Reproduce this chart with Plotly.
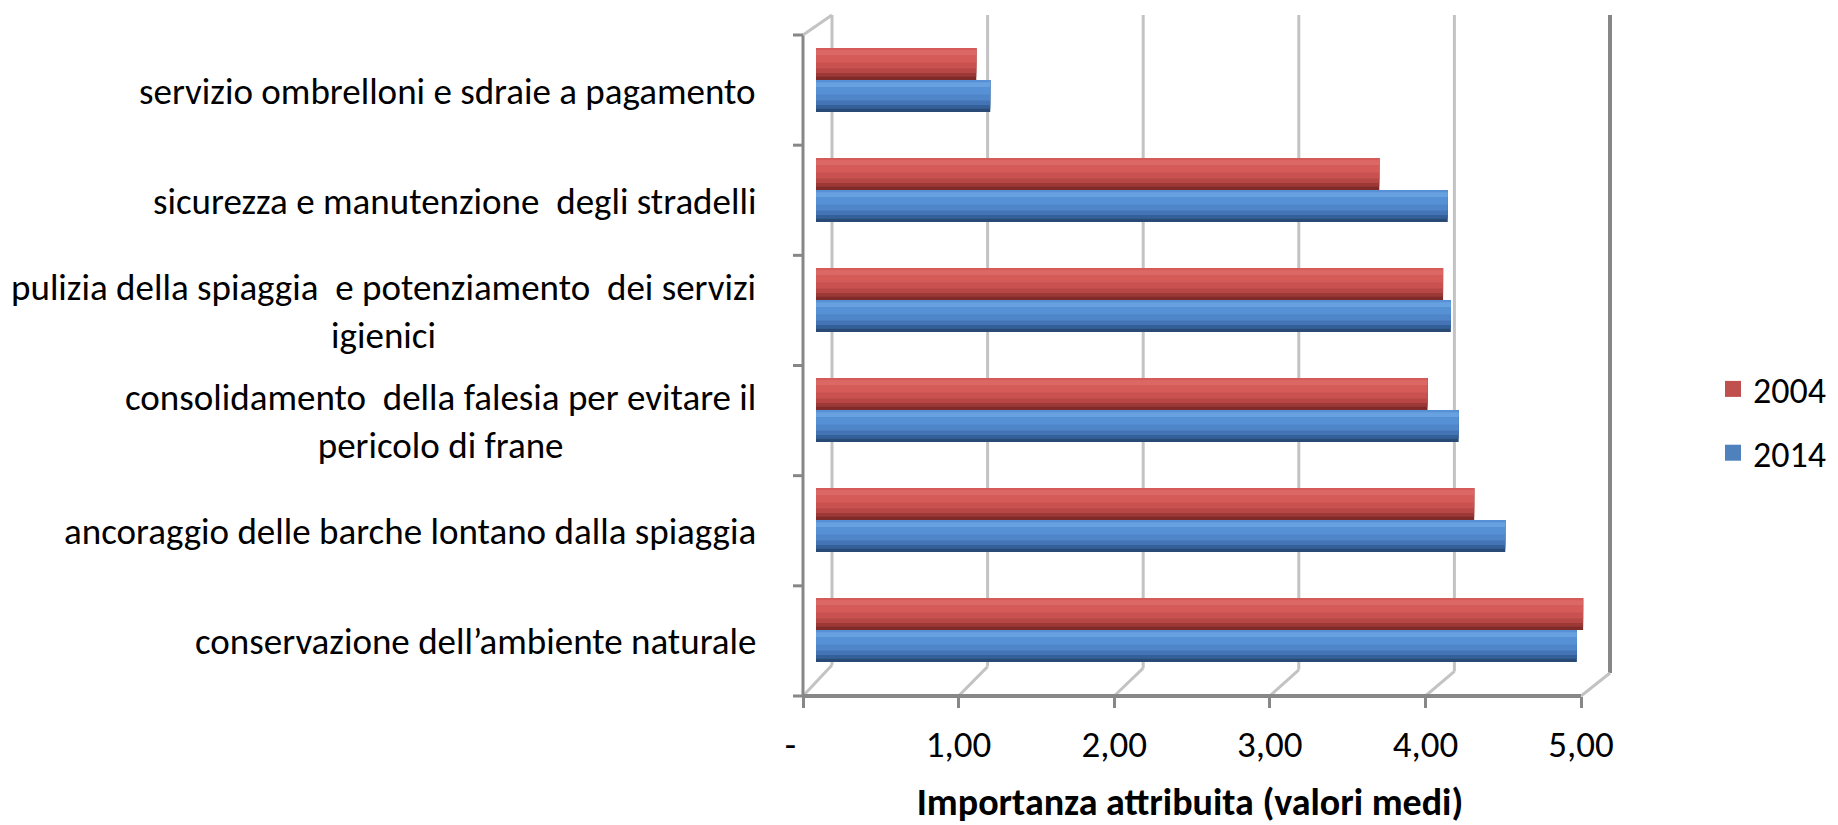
import plotly.graph_objects as go

# ---------------- data ----------------
categories = [
    "conservazione dell’ambiente naturale",
    "ancoraggio delle barche lontano dalla spiaggia",
    "consolidamento della falesia per evitare il pericolo di frane",
    "pulizia della spiaggia e potenziamento dei servizi igienici",
    "sicurezza e manutenzione degli stradelli",
    "servizio ombrelloni e sdraie a pagamento",
]
category_labels = [
    "conservazione dell’ambiente naturale",
    "ancoraggio delle barche lontano dalla spiaggia",
    "consolidamento  della falesia per evitare il<br>pericolo di frane",
    "pulizia della spiaggia  e potenziamento  dei servizi<br>igienici",
    "sicurezza e manutenzione  degli stradelli",
    "servizio ombrelloni e sdraie a pagamento",
]
values_2004 = [4.93, 4.23, 3.93, 4.03, 3.62, 1.03]
values_2014 = [4.89, 4.43, 4.13, 4.08, 4.06, 1.12]
series_names = ["2004", "2014"]
x_tickvals = [0, 1, 2, 3, 4, 5]
x_ticktext = ["-\u00a0\u00a0\u00a0", "1,00", "2,00", "3,00", "4,00", "5,00"]
axis_title = "Importanza attribuita (valori medi)"

# ---------------- geometry / style ----------------
PAGE_OFF = 8                      # default body margin of the html page
W, H = 1838 - PAGE_OFF, 825 - PAGE_OFF
FONT = "Carlito, Calibri, Lato, sans-serif"
FS = 37


def px(x):  # window pixel -> paper x
    return (x - PAGE_OFF) / W


def py(y):  # window pixel -> paper y
    return 1 - (y - PAGE_OFF) / H


front_left, front_right = 803, 1581
front_top, front_bottom = 35, 696
back_dx, back_top = 29, 15
unit = (front_right - front_left) / 5
bar_zero = front_left + 13
dom_l, dom_r = 766, 1614
dom_top, dom_bot = 25, 685
cat_px = (dom_bot - dom_top) / len(categories)
w = 32 / cat_px

red_layers = [(0.00, 1.00, "#7E2B29"), (0.10, 1.00, "#9C3936"), (0.22, 1.00, "#B74744"),
              (0.36, 1.00, "#C95250"), (0.55, 1.00, "#D45B58"), (0.78, 0.93, "#DC6865")]
blue_layers = [(0.00, 1.00, "#2A4A76"), (0.10, 1.00, "#34609A"), (0.22, 1.00, "#4474B5"),
               (0.36, 1.00, "#4F86C9"), (0.55, 1.00, "#5791D5"), (0.78, 0.93, "#67A1DF")]

fig = go.Figure()

for name, vals, base_off, layers in [
    ("2014", values_2014, -w, blue_layers),
    ("2004", values_2004, 0.0, red_layers),
]:
    for i, (f0, f1, col) in enumerate(layers):
        fig.add_trace(go.Bar(
            y=categories, x=vals, orientation="h", base=0,
            offset=base_off + f0 * w, width=(f1 - f0) * w,
            marker=dict(color=col, line=dict(width=0)),
            name=name, showlegend=False,
            hoverinfo="x+name" if i == 0 else "skip",
        ))

legend_colors = {"2004": "#C0504D", "2014": "#4F81BD"}
for name in series_names:
    fig.add_trace(go.Scatter(
        x=[None], y=[None], mode="markers", name=name, legendgroup=name,
        marker=dict(symbol="square", size=20, color=legend_colors[name]),
    ))

shapes = []
light = "#C3C3C3"
dark = "#878787"
bdx = back_dx / unit
for v in x_tickvals:
    bb = 665 + 8 * v / 5
    col = dark if v == x_tickvals[-1] else light
    wd = 4 if v == x_tickvals[-1] else 3
    shapes.append(dict(type="line", xref="x2", yref="paper", x0=v + bdx, x1=v + bdx,
                       y0=py(bb), y1=py(back_top), line=dict(color=col, width=wd), layer="below"))
    shapes.append(dict(type="line", xref="x2", yref="paper", x0=v, x1=v + bdx,
                       y0=py(front_bottom), y1=py(bb), line=dict(color=light, width=3), layer="below"))
# left wall
shapes.append(dict(type="line", xref="x2", yref="paper", x0=0, x1=0,
                   y0=py(front_bottom), y1=py(front_top), line=dict(color=dark, width=3)))
shapes.append(dict(type="line", xref="x2", yref="paper", x0=0, x1=bdx,
                   y0=py(front_top), y1=py(back_top), line=dict(color=light, width=3)))
# front value axis line
shapes.append(dict(type="line", xref="x2", yref="paper", x0=0, x1=x_tickvals[-1],
                   y0=py(front_bottom), y1=py(front_bottom), line=dict(color=dark, width=4)))
# category ticks
step = (front_bottom - front_top) / len(categories)
for k in range(len(categories) + 1):
    yy = front_top + k * step
    shapes.append(dict(type="line", xref="paper", yref="paper", x0=px(front_left - 10), x1=px(front_left),
                       y0=py(yy), y1=py(yy), line=dict(color=dark, width=3)))

annotations = []
for cat, lab in zip(categories, category_labels):
    annotations.append(dict(
        x=px(758), xref="paper", xanchor="right", y=cat, yref="y", yshift=-11,
        text=lab, showarrow=False, align="center",
        font=dict(family=FONT, size=FS, color="#000000"),
    ))

fig.update_layout(
    width=W, height=H,
    margin=dict(l=0, r=0, t=0, b=0),
    paper_bgcolor="white", plot_bgcolor="rgba(0,0,0,0)",
    barmode="overlay",
    font=dict(family=FONT, size=FS, color="#000000"),
    xaxis=dict(domain=[px(dom_l), px(dom_r)],
               range=[(dom_l - bar_zero) / unit, (dom_r - bar_zero) / unit],
               showgrid=False, zeroline=False, showline=False, showticklabels=False, ticks=""),
    xaxis2=dict(overlaying="x", anchor="free", position=py(front_bottom),
                range=[(dom_l - front_left) / unit, (dom_r - front_left) / unit],
                tickmode="array", tickvals=x_tickvals, ticktext=x_ticktext,
                ticks="outside", ticklen=11, tickwidth=3, tickcolor=dark,
                ticklabelstandoff=5,
                showgrid=False, zeroline=False, showline=False,
                tickfont=dict(family=FONT, size=FS, color="#000000"),
                title=dict(text=axis_title, standoff=26,
                           font=dict(family=FONT, size=38, color="#000000", weight="bold"))),
    yaxis=dict(domain=[py(dom_bot), py(dom_top)], type="category",
               categoryorder="array", categoryarray=categories,
               range=[-0.5, len(categories) - 0.5],
               showgrid=False, zeroline=False, showline=False, showticklabels=False, ticks=""),
    legend=dict(x=px(1713), xanchor="left", y=py(421), yanchor="middle",
                traceorder="grouped", tracegroupgap=14,
                font=dict(family=FONT, size=36, color="#000000"),
                bgcolor="rgba(0,0,0,0)"),
    shapes=shapes,
    annotations=annotations,
)

fig.write_html("out.html")
